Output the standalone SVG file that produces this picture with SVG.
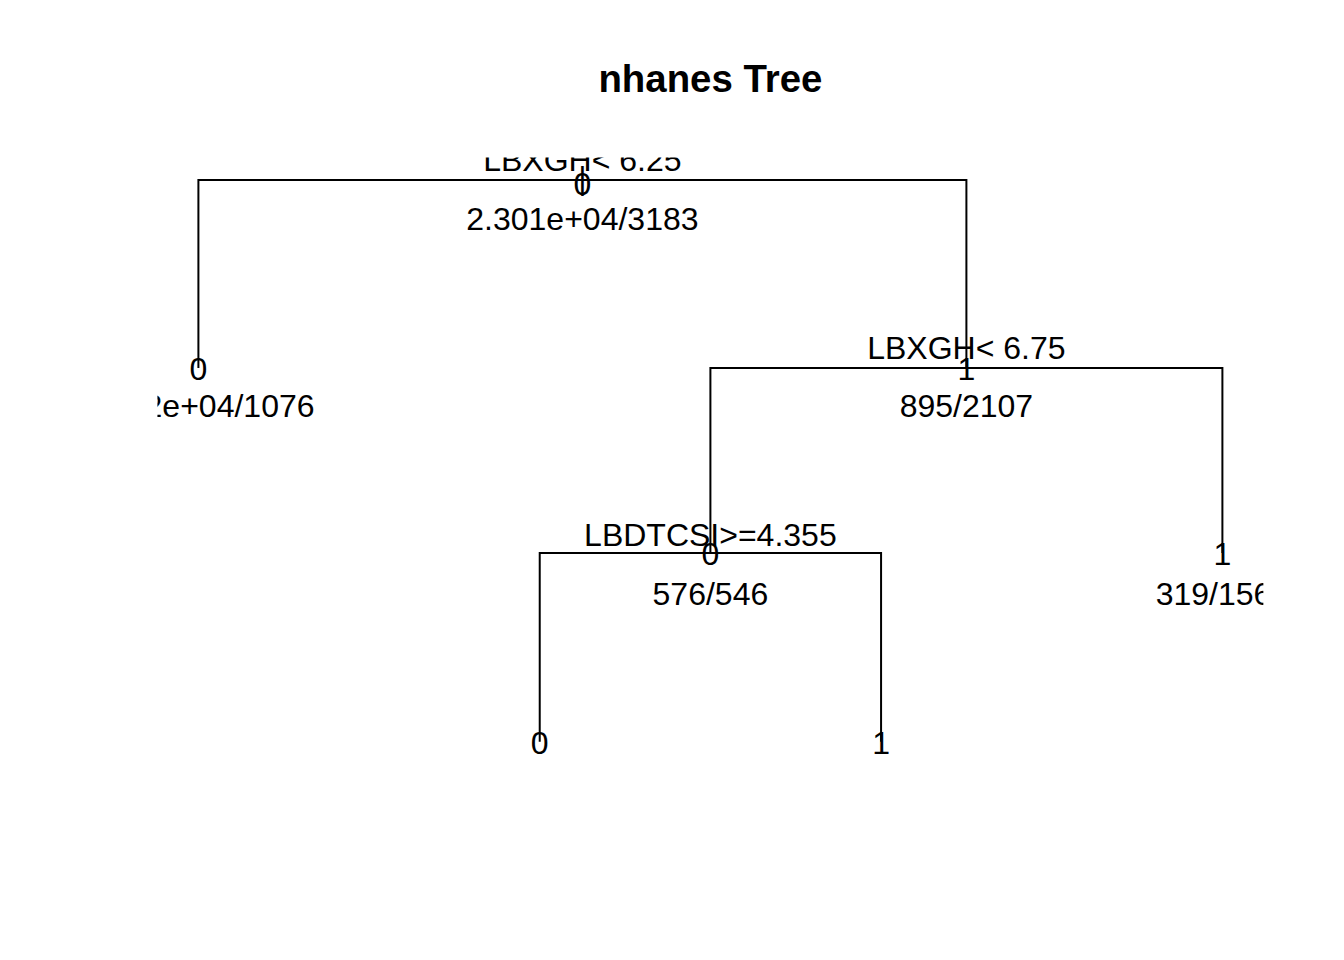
<svg xmlns="http://www.w3.org/2000/svg" width="1344" height="960" viewBox="0 0 1344 960">
<defs>
<style>
.t{font-family:"Liberation Sans",Arial,Helvetica,sans-serif;font-size:32px;fill:#000;text-anchor:middle}
.title{font-family:"Liberation Sans",Arial,Helvetica,sans-serif;font-size:38.4px;font-weight:bold;fill:#000;text-anchor:middle}
.br{fill:none;stroke:#000;stroke-width:2;stroke-linecap:butt;stroke-linejoin:miter}
</style>
<clipPath id="plot"><rect x="157.44" y="157.44" width="1105.92" height="606.72"/></clipPath>
</defs>
<rect width="1344" height="960" fill="#fff"/>
<text class="title" x="710.4" y="92">nhanes Tree</text>
<g clip-path="url(#plot)">
<g id="connectors">
<path class="br" d="M198.4,368 V179.9 H966.4 V368"/>
<path class="br" d="M710.4,553 V368 H1222.4 V553"/>
<path class="br" d="M539.73,741.7 V553 H881.07 V741.7"/>
</g>
<g id="node1">
<text class="t" x="582.4" y="170.5">LBXGH&lt; 6.25</text>
<text class="t" x="582.4" y="188.5">|</text>
<text class="t" x="582.4" y="194.5">0</text>
<text class="t" x="582.4" y="229.5">2.301e+04/3183</text>
</g>
<g id="node2">
<text class="t" x="198.4" y="380">0</text>
<text class="t" x="198.4" y="417">2.212e+04/1076</text>
</g>
<g id="node3">
<text class="t" x="966.4" y="359">LBXGH&lt; 6.75</text>
<text class="t" x="966.4" y="380">1</text>
<text class="t" x="966.4" y="417">895/2107</text>
</g>
<g id="node6">
<text class="t" x="710.4" y="546">LBDTCSI&gt;=4.355</text>
<text class="t" x="710.4" y="565">0</text>
<text class="t" x="710.4" y="605">576/546</text>
</g>
<g id="node7">
<text class="t" x="1222.4" y="565">1</text>
<text class="t" x="1222.4" y="605">319/1561</text>
</g>
<g id="node12">
<text class="t" x="539.73" y="754">0</text>
</g>
<g id="node13">
<text class="t" x="881.07" y="754">1</text>
</g>
</g>
</svg>
